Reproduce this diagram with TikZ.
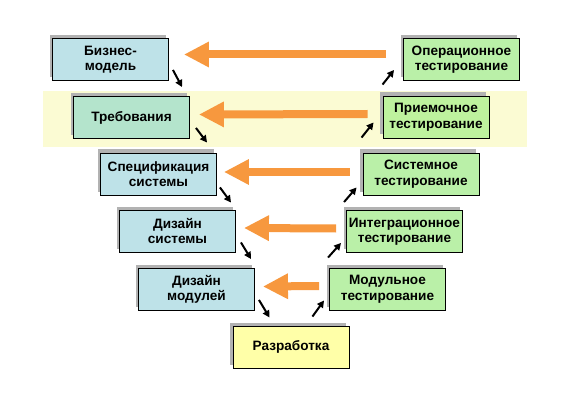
\documentclass[tikz,border=0pt]{standalone}
\usepackage{fontspec}
\setmainfont{Liberation Sans}
\usetikzlibrary{arrows.meta,shadows}
\definecolor{bandc}{RGB}{251,251,211}
\definecolor{bluec}{RGB}{190,226,232}
\definecolor{mintc}{RGB}{180,228,204}
\definecolor{greenc}{RGB}{186,240,168}
\definecolor{green2c}{RGB}{190,242,158}
\definecolor{yellowc}{RGB}{255,255,168}
\definecolor{orangec}{RGB}{247,152,62}
\begin{document}
\begin{tikzpicture}[x=1pt,y=-1pt,
  box/.style={draw=black, line width=0.9pt, minimum width=116pt, minimum height=42pt,
    inner sep=0pt, align=center, font=\fontsize{13.6}{15.5}\selectfont\bfseries,
    drop shadow={shadow xshift=-3pt, shadow yshift=3.5pt, fill=black!30, opacity=1}},
  lbox/.style={box, fill=bluec},
  rbox/.style={box, fill=greenc},
  oarr/.style={draw=orangec, line width=8pt, -{Triangle[length=25pt,width=24pt]}},
  blk/.style={draw=black, line width=2pt, -{Triangle[length=7pt,width=7pt]}}
]
\useasboundingbox (0,0) rectangle (582,412);
\fill[bandc] (43,91) rectangle (527,147);

% left branch
\node[lbox] (b1) at (110.5,59.5) {Бизнес-\\модель};
\node[box, fill=mintc] (b2) at (131.5,117.5) {Требования};
\node[lbox] (b3) at (158.5,174) {Спецификация\\системы};
\node[lbox] (b4) at (177.5,231) {Дизайн\\системы};
\node[lbox] (b5) at (196.5,289.5) {Дизайн\\модулей};
\node[box, fill=yellowc] (b6) at (291,347) {Разработка};

% right branch
\node[rbox] (r1) at (461.5,59.5) {Операционное\\тестирование};
\node[box, fill=green2c, minimum width=106pt] (r2) at (436,117) {Приемочное\\тестирование};
\node[rbox] (r3) at (421,174) {Системное\\тестирование};
\node[rbox] (r4) at (404.5,231.5) {Интеграционное\\тестирование};
\node[rbox] (r5) at (387.5,289) {Модульное\\тестирование};

% orange arrows
\draw[oarr] ([shift={(-17,-5)}]r1.west) -- ([shift={(15,-5)}]b1.east);
\draw[oarr] ([shift={(-15,-3)}]r2.west) -- ([shift={(9,-3)}]b2.east);
\draw[oarr] ([shift={(-13,-2)}]r3.west) -- ([shift={(7,-2)}]b3.east);
\draw[oarr] ([shift={(-10,-3)}]r4.west) -- ([shift={(8,-3)}]b4.east);
\draw[oarr] ([shift={(-10,-3)}]r5.west) -- ([shift={(8,-3)}]b5.east);

% black arrows down
\draw[blk] ([shift={(4,-11)}]b1.south east) -- ([shift={(109,-9)}]b2.north west);
\draw[blk] ([shift={(6,-11)}]b2.south east) -- ([shift={(107,-10)}]b3.north west);
\draw[blk] ([shift={(3,-8)}]b3.south east) -- ([shift={(112,-7)}]b4.north west);
\draw[blk] ([shift={(5,-10)}]b4.south east) -- ([shift={(113,-9)}]b5.north west);
\draw[blk] ([shift={(4,-11)}]b5.south east) -- ([shift={(37,-8)}]b6.north west);

% black arrows up
\draw[blk] ([shift={(-37,-9)}]b6.north east) -- ([shift={(-5,-10)}]r5.south west);
\draw[blk] ([shift={(-1,-10)}]r5.north west) -- ([shift={(-5,-10)}]r4.south west);
\draw[blk] ([shift={(-2,-8)}]r4.north west) -- ([shift={(-6,-8)}]r3.south west);
\draw[blk] ([shift={(-1,-15)}]r3.north west) -- ([shift={(-9,-16)}]r2.south west);
\draw[blk] ([shift={(0,-11)}]r2.north west) -- ([shift={(-9,-11)}]r1.south west);
\end{tikzpicture}
\end{document}
